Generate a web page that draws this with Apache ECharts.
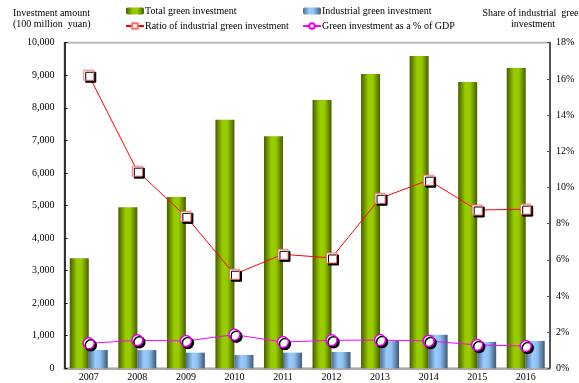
<!DOCTYPE html>
<html>
<head>
<meta charset="utf-8">
<script src="https://cdn.jsdelivr.net/npm/echarts@6/dist/echarts.min.js"></script>
<style>
  html, body { margin: 0; padding: 0; background: #fff; }
  #chart { width: 579px; height: 383px; }
</style>
</head>
<body>
<div id="chart"></div>
<script>
// Years on the category axis
var years = ['2007', '2008', '2009', '2010', '2011', '2012', '2013', '2014', '2015', '2016'];
// Investment amounts, 100 million yuan (left axis)
var totalGreen = [3380, 4950, 5260, 7630, 7130, 8240, 9040, 9590, 8790, 9220];
var industrialGreen = [560, 560, 480, 410, 480, 500, 840, 1030, 810, 840];
// Shares in percent (right axis)
var industrialShare = [16.2, 10.9, 8.4, 5.2, 6.3, 6.1, 9.4, 10.4, 8.75, 8.8];
var greenGdpShare = [1.38, 1.55, 1.51, 1.86, 1.45, 1.55, 1.56, 1.51, 1.29, 1.23];
// Axis ticks
var leftMax = 10000, leftStep = 1000;
var rightMax = 18, rightStep = 2;

var serif = '"Liberation Serif", "DejaVu Serif", serif';

var greenFill = new echarts.graphic.LinearGradient(0, 0, 1, 0, [
  { offset: 0, color: '#465e00' },
  { offset: 0.38, color: '#99cc00' },
  { offset: 0.62, color: '#99cc00' },
  { offset: 1, color: '#465e00' }
]);
var blueFill = new echarts.graphic.LinearGradient(0, 0, 1, 0, [
  { offset: 0, color: '#4d6d8d' },
  { offset: 0.35, color: '#99ccff' },
  { offset: 0.6, color: '#8fc0f0' },
  { offset: 1, color: '#3d5877' }
]);

var chart = echarts.init(document.getElementById('chart'), null, { renderer: 'canvas' });

var legendText = { fontFamily: serif, fontSize: 10, color: '#000', lineHeight: 12, padding: [0, 0, 0, -4] };

var option = {
  animation: false,
  textStyle: { fontFamily: serif, color: '#000' },
  grid: {
    left: 64.5, right: 29, top: 42.7, bottom: 14.7,
    show: true, borderColor: '#bbbbbb', borderWidth: 2, backgroundColor: 'transparent'
  },
  legend: [
    {
      left: 120, top: 0, orient: 'vertical',
      itemWidth: 18, itemHeight: 7, itemGap: 3,
      textStyle: legendText,
      data: ['Total green investment', 'Ratio of industrial green investment']
    },
    {
      left: 297, top: 0, orient: 'vertical',
      itemWidth: 18, itemHeight: 7, itemGap: 3,
      textStyle: legendText,
      data: ['Industrial green investment', 'Green investment as a % of GDP']
    }
  ],
  graphic: [
    {
      type: 'text', left: 13, top: 8,
      style: {
        text: 'Investment amount\n(100 million  yuan)',
        font: '10px ' + serif, fill: '#000', lineHeight: 11, align: 'center'
      }
    },
    {
      type: 'text', x: 533, y: 8,
      style: {
        text: 'Share of industrial  green\ninvestment',
        font: '10px ' + serif, fill: '#000', lineHeight: 11, align: 'center'
      }
    }
  ],
  xAxis: {
    type: 'category',
    data: years,
    boundaryGap: true,
    axisLine: { lineStyle: { color: '#aaaaaa', width: 2 } },
    axisTick: { show: false },
    axisLabel: { fontFamily: serif, fontSize: 10, color: '#000', margin: 4 }
  },
  yAxis: [
    {
      type: 'value', min: 0, max: leftMax, interval: leftStep,
      axisLine: { show: true, lineStyle: { color: '#000', width: 1.5 } },
      axisTick: { show: true, inside: true, length: 3, lineStyle: { color: '#000' } },
      splitLine: { show: false },
      axisLabel: {
        fontFamily: serif, fontSize: 10, color: '#000', margin: 10,
        formatter: function (v) { return v.toLocaleString('en-US'); }
      }
    },
    {
      type: 'value', min: 0, max: rightMax, interval: rightStep, position: 'right',
      axisLine: { show: true, lineStyle: { color: '#555', width: 2 } },
      axisTick: { show: true, inside: true, length: 3, lineStyle: { color: '#555' } },
      splitLine: { show: false },
      axisLabel: { fontFamily: serif, fontSize: 10, color: '#000', margin: 6, formatter: '{value}%' }
    }
  ],
  series: [
    {
      name: 'Total green investment', type: 'bar', yAxisIndex: 0,
      data: totalGreen, barWidth: 19, barGap: '0%',
      itemStyle: { color: greenFill }
    },
    {
      name: 'Industrial green investment', type: 'bar', yAxisIndex: 0,
      data: industrialGreen, barWidth: 19, barGap: '0%',
      itemStyle: { color: blueFill }
    },
    {
      name: 'Ratio of industrial green investment', type: 'line', yAxisIndex: 1,
      data: industrialShare, z: 5,
      symbol: 'rect', symbolSize: 10,
      lineStyle: { color: '#ff0000', width: 1 },
      itemStyle: {
        color: '#ffffff', borderColor: '#ff7070', borderWidth: 1,
        shadowColor: '#000', shadowOffsetX: 2, shadowOffsetY: 2, shadowBlur: 0
      }
    },
    {
      name: 'Green investment as a % of GDP', type: 'line', yAxisIndex: 1,
      data: greenGdpShare, z: 5,
      symbol: 'circle', symbolSize: 11,
      lineStyle: { color: '#ff00ff', width: 1 },
      itemStyle: {
        color: '#ffffff', borderColor: '#e000e0', borderWidth: 1.5,
        shadowColor: '#000', shadowOffsetX: 2, shadowOffsetY: 2, shadowBlur: 0
      }
    }
  ]
};

chart.setOption(option);
</script>
</body>
</html>
